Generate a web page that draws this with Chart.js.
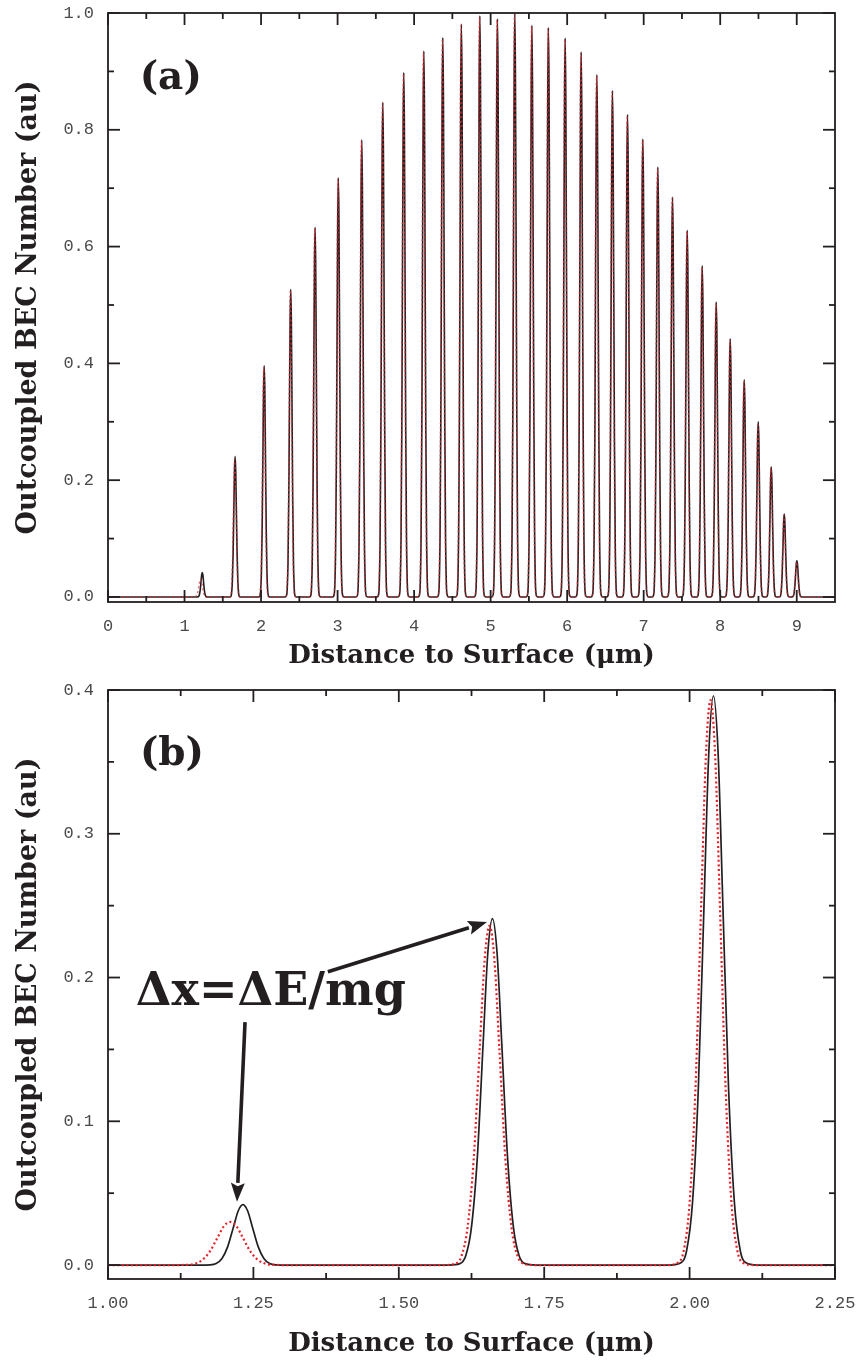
<!DOCTYPE html>
<html>
<head>
<meta charset="utf-8">
<title>Outcoupled BEC number vs distance to surface</title>
<script src="https://cdn.jsdelivr.net/npm/chart.js@4.4.1/dist/chart.umd.min.js"></script>
<style>
  html, body { margin: 0; padding: 0; background: #ffffff; }
  body { width: 857px; height: 1364px; position: relative; overflow: hidden; }
  .panel { position: absolute; left: 0; width: 857px; }
  #wrapA { top: 0; height: 680px; }
  #wrapB { top: 680px; height: 684px; }
  canvas { display: block; }
</style>
</head>
<body>
<div class="panel" id="wrapA"><canvas id="chartA" width="857" height="680"></canvas></div>
<div class="panel" id="wrapB"><canvas id="chartB" width="857" height="684"></canvas></div>
<script>
// ---- Peak data: position of each outcoupled burst (µm) and its height (au) ----
const PEAK_POS = [1.232, 1.661, 2.041, 2.388, 2.706, 3.010, 3.316, 3.591, 3.865, 4.127,
                  4.375, 4.618, 4.859, 5.089, 5.316, 5.539, 5.755, 5.974, 6.183, 6.388,
                  6.592, 6.789, 6.989, 7.185, 7.377, 7.569, 7.765, 7.948, 8.131, 8.314,
                  8.497, 8.667, 8.837, 9.002];
const PEAK_HEIGHT = [0.042, 0.241, 0.396, 0.527, 0.633, 0.718, 0.783, 0.847, 0.898, 0.935,
                     0.958, 0.981, 0.995, 0.990, 1.000, 0.979, 0.975, 0.957, 0.933, 0.894,
                     0.867, 0.826, 0.784, 0.736, 0.685, 0.628, 0.567, 0.505, 0.442, 0.372,
                     0.300, 0.223, 0.142, 0.062];

// Comparison curve (dotted): positions, heights and relative peak widths
const REF_POS = [1.210, 1.656, 2.036, 2.384, 2.702, 3.006, 3.312, 3.587, 3.861, 4.123,
                 4.371, 4.614, 4.855, 5.085, 5.312, 5.535, 5.751, 5.970, 6.179, 6.384,
                 6.588, 6.785, 6.985, 7.181, 7.373, 7.565, 7.761, 7.944, 8.127, 8.310,
                 8.493, 8.663, 8.833, 8.998];
const REF_HEIGHT = [0.030, 0.236, 0.393, 0.525, 0.631, 0.716, 0.781, 0.845, 0.896, 0.933,
                    0.956, 0.979, 0.993, 0.988, 0.998, 0.977, 0.973, 0.955, 0.931, 0.892,
                    0.865, 0.824, 0.782, 0.734, 0.683, 0.626, 0.565, 0.503, 0.440, 0.370,
                    0.298, 0.221, 0.140, 0.060];
const REF_SPREAD = [1.35, 1.05, 1.0, 1.0, 1.0, 1.0, 1.0, 1.0, 1.0, 1.0,
                    1.0, 1.0, 1.0, 1.0, 1.0, 1.0, 1.0, 1.0, 1.0, 1.0,
                    1.0, 1.0, 1.0, 1.0, 1.0, 1.0, 1.0, 1.0, 1.0, 1.0,
                    1.0, 1.0, 1.0, 1.0];

// Shape of a single burst: offset from its centre (µm) and fraction of its height
const PROFILE_OFFSET = [-0.075, -0.056, -0.046, -0.036, -0.026, -0.016, -0.008, 0,
                        0.008, 0.016, 0.026, 0.036, 0.046, 0.056, 0.075];
const PROFILE_LEVEL = [0, 0.004, 0.026, 0.11, 0.31, 0.64, 0.90, 1,
                       0.90, 0.64, 0.31, 0.11, 0.026, 0.004, 0];

// ---- Axis ticks ----
const A_X_TICKS = [0, 1, 2, 3, 4, 5, 6, 7, 8, 9];
const A_X_LABELS = ['0', '1', '2', '3', '4', '5', '6', '7', '8', '9'];
const A_X_MINOR = [0.5, 1.5, 2.5, 3.5, 4.5, 5.5, 6.5, 7.5, 8.5];
const A_Y_TICKS = [0, 0.2, 0.4, 0.6, 0.8, 1.0];
const A_Y_LABELS = ['0.0', '0.2', '0.4', '0.6', '0.8', '1.0'];
const A_Y_MINOR = [0.1, 0.3, 0.5, 0.7, 0.9];

const B_X_TICKS = [1.00, 1.25, 1.50, 1.75, 2.00, 2.25];
const B_X_LABELS = ['1.00', '1.25', '1.50', '1.75', '2.00', '2.25'];
const B_X_MINOR = [1.125, 1.375, 1.625, 1.875, 2.125];
const B_Y_TICKS = [0, 0.1, 0.2, 0.3, 0.4];
const B_Y_LABELS = ['0.0', '0.1', '0.2', '0.3', '0.4'];
const B_Y_MINOR = [0.05, 0.15, 0.25, 0.35];

// Build a trace of bursts from centres, heights and the burst shape
function buildTrace(pos, height, spread, xStart, xEnd) {
  const pts = [{ x: xStart, y: 0 }];
  pos.forEach((c, i) => {
    const s = spread ? spread[i] : 1;
    PROFILE_OFFSET.forEach((off, k) => {
      pts.push({ x: c + off * s, y: height[i] * PROFILE_LEVEL[k] });
    });
  });
  pts.push({ x: xEnd, y: 0 });
  return pts;
}

const INK = '#231f20';
const TICK_FONT = { family: '"Liberation Mono", "DejaVu Sans Mono", monospace', size: 17, weight: 'normal' };
const X_TITLE_FONT = { family: '"DejaVu Serif", serif', size: 26, weight: 'bold' };
const Y_TITLE_FONT = { family: '"DejaVu Serif", serif', size: 27, weight: 'bold' };

// Frame with inward tick marks on all four sides
const frameTicks = {
  id: 'frameTicks',
  afterDatasetsDraw(chart, args, o) {
    const { ctx, chartArea: a } = chart;
    const { x, y } = chart.scales;
    ctx.save();
    ctx.strokeStyle = INK;
    ctx.lineWidth = 1.8;
    ctx.lineCap = 'butt';
    const seg = (x1, y1, x2, y2) => { ctx.beginPath(); ctx.moveTo(x1, y1); ctx.lineTo(x2, y2); ctx.stroke(); };
    const major = 12, minor = 6;
    o.xMajor.forEach(v => { const p = x.getPixelForValue(v); seg(p, a.bottom, p, a.bottom - major); seg(p, a.top, p, a.top + major); });
    o.xMinor.forEach(v => { const p = x.getPixelForValue(v); seg(p, a.bottom, p, a.bottom - minor); seg(p, a.top, p, a.top + minor); });
    o.yMajor.forEach(v => { const p = y.getPixelForValue(v); seg(a.left, p, a.left + major, p); seg(a.right, p, a.right - major, p); });
    o.yMinor.forEach(v => { const p = y.getPixelForValue(v); seg(a.left, p, a.left + minor, p); seg(a.right, p, a.right - minor, p); });
    ctx.strokeRect(a.left, a.top, a.right - a.left, a.bottom - a.top);
    ctx.restore();
  }
};

// Panel labels and arrows
function drawArrow(ctx, x1, y1, x2, y2, shaft, headLen, headW) {
  const ang = Math.atan2(y2 - y1, x2 - x1);
  const bx = x2 - headLen * Math.cos(ang), by = y2 - headLen * Math.sin(ang);
  ctx.lineWidth = shaft;
  ctx.beginPath(); ctx.moveTo(x1, y1); ctx.lineTo(bx, by); ctx.stroke();
  const nx = -Math.sin(ang), ny = Math.cos(ang);
  ctx.beginPath();
  ctx.moveTo(x2, y2);
  ctx.lineTo(bx + nx * headW / 2, by + ny * headW / 2);
  ctx.lineTo(bx + (x2 - bx) * 0.18, by + (y2 - by) * 0.18);
  ctx.lineTo(bx - nx * headW / 2, by - ny * headW / 2);
  ctx.closePath();
  ctx.fill();
}
const notes = {
  id: 'notes',
  afterDraw(chart, args, o) {
    const { ctx } = chart;
    const { x, y } = chart.scales;
    ctx.save();
    ctx.fillStyle = INK;
    ctx.strokeStyle = INK;
    (o.texts || []).forEach(t => {
      ctx.font = t.font;
      ctx.textAlign = 'center';
      ctx.textBaseline = 'alphabetic';
      ctx.fillText(t.text, x.getPixelForValue(t.x), y.getPixelForValue(t.y));
    });
    (o.arrows || []).forEach(a => {
      drawArrow(ctx, x.getPixelForValue(a.from[0]), y.getPixelForValue(a.from[1]),
                x.getPixelForValue(a.to[0]), y.getPixelForValue(a.to[1]), 3.6, 19, 14);
    });
    ctx.restore();
  }
};

function makeChart(id, cfg) {
  return new Chart(document.getElementById(id), {
    type: 'line',
    data: {
      datasets: [
        {
          label: 'calculation',
          data: buildTrace(PEAK_POS, PEAK_HEIGHT, null, cfg.xMin, cfg.xMax),
          borderColor: INK,
          borderWidth: cfg.lineW,
          pointRadius: 0,
          cubicInterpolationMode: 'monotone',
          order: 2
        },
        {
          label: 'comparison',
          data: buildTrace(REF_POS, REF_HEIGHT, REF_SPREAD, cfg.xMin, cfg.xMax),
          borderColor: cfg.redColor,
          borderWidth: cfg.redW,
          borderDash: [2, 2.6],
          pointRadius: 0,
          cubicInterpolationMode: 'monotone',
          order: 1
        }
      ]
    },
    options: {
      responsive: false,
      animation: false,
      events: [],
      parsing: false,
      layout: { padding: { left: 0, right: 22, top: cfg.top, bottom: 0 } },
      plugins: {
        legend: { display: false },
        tooltip: { enabled: false },
        frameTicks: { xMajor: cfg.xTicks, xMinor: cfg.xMinor, yMajor: cfg.yTicks, yMinor: cfg.yMinor },
        notes: cfg.notes
      },
      scales: {
        x: {
          type: 'linear',
          min: cfg.xMin, max: cfg.xMax,
          afterBuildTicks: s => { s.ticks = cfg.xTicks.map(v => ({ value: v })); },
          afterFit: s => { s.height = cfg.xAxisH; s.paddingLeft = 0; s.paddingRight = 0; },
          ticks: {
            font: TICK_FONT, color: '#4a4a4a', padding: 14, maxRotation: 0, autoSkip: false,
            callback: v => cfg.xLabels[cfg.xTicks.indexOf(v)]
          },
          grid: { display: false, drawTicks: false },
          border: { display: false },
          title: {
            display: true, text: 'Distance to Surface (\u03bcm)', color: INK, font: X_TITLE_FONT,
            padding: { top: 0, bottom: cfg.titlePadB }
          }
        },
        y: {
          type: 'linear',
          min: cfg.yMin, max: cfg.yMax,
          afterBuildTicks: s => { s.ticks = cfg.yTicks.map(v => ({ value: v })); },
          afterFit: s => { s.width = 108; s.paddingTop = 0; s.paddingBottom = 0; },
          ticks: {
            font: TICK_FONT, color: '#4a4a4a', padding: 14, autoSkip: false,
            callback: v => cfg.yLabels[cfg.yTicks.indexOf(v)]
          },
          grid: { display: false, drawTicks: false },
          border: { display: false },
          title: {
            display: true, text: 'Outcoupled BEC Number (au)', color: INK, font: Y_TITLE_FONT,
            padding: { top: 13, bottom: 0 }
          }
        }
      }
    },
    plugins: [frameTicks, notes]
  });
}

makeChart('chartA', {
  xMin: 0, xMax: 9.5, yMin: -0.0086, yMax: 1.0, top: 13, xAxisH: 78, titlePadB: 8,
  xTicks: A_X_TICKS, xLabels: A_X_LABELS, xMinor: A_X_MINOR,
  yTicks: A_Y_TICKS, yLabels: A_Y_LABELS, yMinor: A_Y_MINOR,
  lineW: 1.6, redW: 1.4, redColor: 'rgba(225,40,45,0.75)',
  notes: {
    texts: [{ text: '(a)', x: 0.82, y: 0.87, font: 'bold 39px "DejaVu Serif", serif' }]
  }
});

makeChart('chartB', {
  xMin: 1.0, xMax: 2.25, yMin: -0.0097, yMax: 0.4, top: 10, xAxisH: 85, titlePadB: 4,
  xTicks: B_X_TICKS, xLabels: B_X_LABELS, xMinor: B_X_MINOR,
  yTicks: B_Y_TICKS, yLabels: B_Y_LABELS, yMinor: B_Y_MINOR,
  lineW: 1.7, redW: 2.2, redColor: '#ee1c25',
  notes: {
    texts: [
      { text: '(b)', x: 1.11, y: 0.348, font: 'bold 39px "DejaVu Serif", serif' },
      { text: '\u0394x=\u0394E/mg', x: 1.28, y: 0.181, font: 'bold 46px "DejaVu Serif", serif' }
    ],
    arrows: [
      { from: [1.378, 0.204], to: [1.6517, 0.2386] },
      { from: [1.2356, 0.169], to: [1.2218, 0.044] }
    ]
  }
});
</script>
</body>
</html>
